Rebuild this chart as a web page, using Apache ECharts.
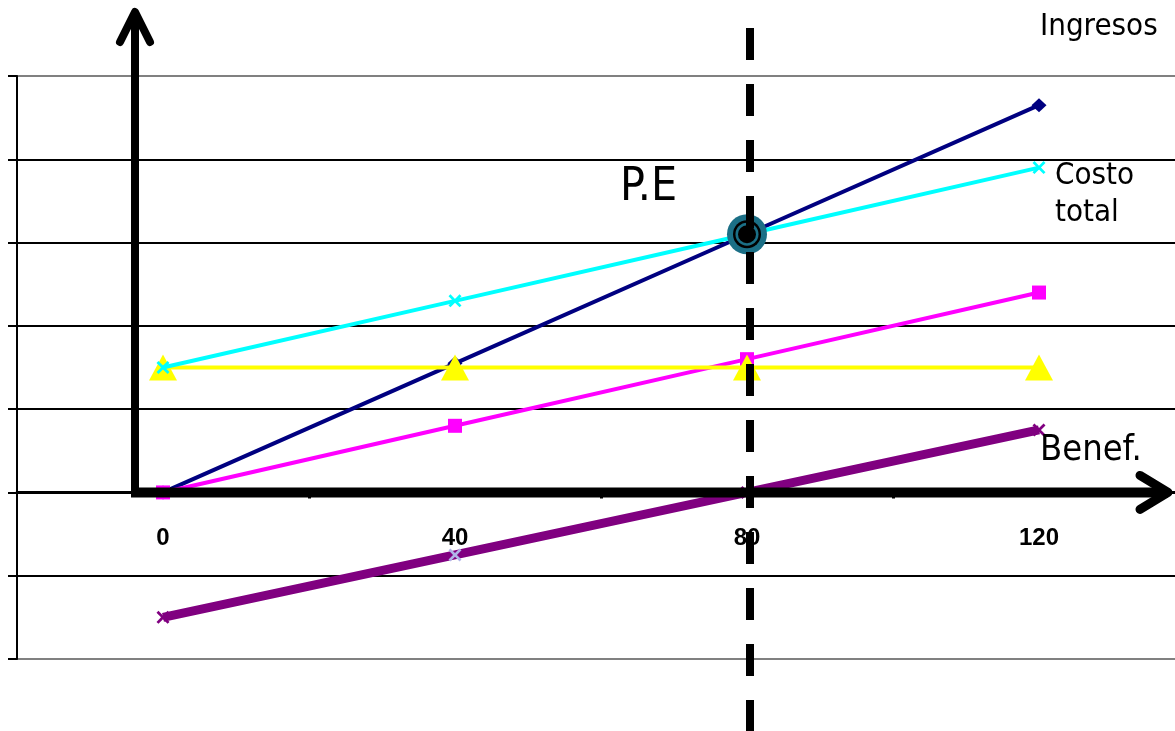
<!DOCTYPE html>
<html>
<head>
<meta charset="utf-8">
<script src="https://cdn.jsdelivr.net/npm/echarts@6/dist/echarts.min.js"></script>
<style>html,body{margin:0;padding:0;background:#fff;}#c{width:1175px;height:731px;}</style>
</head>
<body>
<div id="c"></div>
<script>
// ---- data ----
const xValues = [0, 40, 80, 120];
const ingresos = [0, 15.5, 31, 46.5];
const costoTotal = [15, 23, 31, 39];
const costoVariable = [0, 8, 16, 24];
const costoFijo = [15, 15, 15, 15];
const beneficio = [-15, -7.5, 0, 7.5];
const breakEven = [80, 31];
const xTickLabels = [0, 40, 80, 120];
const xTickMarks = [20, 60, 100];

const pairs = (ys) => xValues.map((x, i) => [x, ys[i]]);
const XPATH = 'path://M0,1.5 L1.5,0 L5,3.5 L8.5,0 L10,1.5 L6.5,5 L10,8.5 L8.5,10 L5,6.5 L1.5,10 L0,8.5 L3.5,5 Z';

const chart = echarts.init(document.getElementById('c'));
const gridColors = ['#808080', '#000', '#000', '#000', '#000', '#000', '#000', '#808080'];
const Y_MIN = -20, Y_MAX = 50, GRID_H = 583;
const zeroOffset = -GRID_H * (0 - Y_MIN) / (Y_MAX - Y_MIN);

chart.setOption({
  animation: false,
  grid: { left: 17, top: 76, width: 1168, height: GRID_H, outerBoundsMode: 'none', containLabel: false },
  xAxis: {
    type: 'value', min: -20, max: 140, position: 'bottom', offset: zeroOffset,
    splitLine: { show: false },
    axisLine: { onZero: false, lineStyle: { color: '#000', width: 3 } },
    axisTick: { customValues: xTickMarks, length: 6, lineStyle: { color: '#000', width: 3 } },
    axisLabel: { customValues: xTickLabels, fontWeight: 'bold', fontSize: 24, fontFamily: 'Liberation Sans', color: '#000', margin: 34 }
  },
  yAxis: {
    type: 'value', min: Y_MIN, max: Y_MAX, interval: 10,
    axisLine: { show: true, onZero: false, lineStyle: { color: '#000', width: 2 } },
    axisTick: { show: true, length: 9, lineStyle: { color: '#000', width: 2 } },
    axisLabel: { show: false },
    splitLine: { show: true, lineStyle: { color: gridColors, width: 2 } }
  },
  series: [
    { name: 'Ingresos', type: 'line', data: pairs(ingresos), symbol: 'diamond', symbolSize: [15, 14],
      lineStyle: { color: '#000080', width: 4 }, itemStyle: { color: '#000080' }, z: 2 },
    { name: 'Costo variable', type: 'line', data: pairs(costoVariable), symbol: 'rect', symbolSize: 14,
      lineStyle: { color: '#ff00ff', width: 4 }, itemStyle: { color: '#ff00ff' }, z: 3 },
    { name: 'Costo fijo', type: 'line', data: pairs(costoFijo), symbol: 'triangle', symbolSize: [28, 26],
      lineStyle: { color: '#ffff00', width: 4 }, itemStyle: { color: '#ffff00' }, z: 4 },
    { name: 'Costo total', type: 'line', data: pairs(costoTotal), symbol: XPATH, symbolSize: 13,
      lineStyle: { color: '#00ffff', width: 4 }, itemStyle: { color: '#00ffff' }, z: 5 },
    { name: 'Benef.', type: 'line', data: pairs(beneficio).map((p, i) => i === 1 ? { value: p, itemStyle: { color: '#b0b4e8' } } : p),
      symbol: XPATH, symbolSize: 13,
      lineStyle: { color: '#800080', width: 9 }, itemStyle: { color: '#800080' }, z: 6 },
    { type: 'scatter', data: [breakEven], symbol: 'circle', symbolSize: 40, itemStyle: { color: '#1b6f86', opacity: 1 }, z: 7 },
    { type: 'scatter', data: [breakEven], symbol: 'circle', symbolSize: 28, itemStyle: { color: '#000', opacity: 1 }, z: 8 },
    { type: 'scatter', data: [breakEven], symbol: 'circle', symbolSize: 23, itemStyle: { color: '#1b6f86', opacity: 1 }, z: 9 },
    { type: 'scatter', data: [breakEven], symbol: 'circle', symbolSize: 18, itemStyle: { color: '#000', opacity: 1 }, z: 10 }
  ]
});

// decorations (arrows, dashed break-even line, annotations) positioned from the axes
const o = chart.convertToPixel({ gridIndex: 0 }, [0, 0]);
const pe = chart.convertToPixel({ gridIndex: 0 }, breakEven);
const yax = o[0] - 28;
const txtFont = "'DejaVu Sans Condensed', 'DejaVu Sans', sans-serif";
chart.setOption({
  graphic: [
    { type: 'line', z: 100, shape: { x1: yax, y1: o[1] + 4, x2: yax, y2: 14 }, style: { stroke: '#000', lineWidth: 8 } },
    { type: 'polyline', z: 100, shape: { points: [[yax - 15, 42], [yax, 12], [yax + 15, 42]] }, style: { stroke: '#000', lineWidth: 8, lineCap: 'round', lineJoin: 'round', fill: null } },
    { type: 'line', z: 100, shape: { x1: yax - 4, y1: o[1], x2: 1168, y2: o[1] }, style: { stroke: '#000', lineWidth: 10 } },
    { type: 'polyline', z: 100, shape: { points: [[1140, o[1] - 17], [1168, o[1]], [1140, o[1] + 17]] }, style: { stroke: '#000', lineWidth: 9, lineCap: 'round', lineJoin: 'round', fill: null } },
    { type: 'line', z: 101, shape: { x1: pe[0] + 3, y1: 28, x2: pe[0] + 3, y2: 731 }, style: { stroke: '#000', lineWidth: 8, lineDash: [32, 24] } },
    { type: 'text', z: 102, style: { text: 'Ingresos', x: 1040, y: 27, fontSize: 31, fontFamily: txtFont, fill: '#000', verticalAlign: 'middle' } },
    { type: 'text', z: 102, style: { text: 'Costo', x: 1055, y: 176, fontSize: 31, fontFamily: txtFont, fill: '#000', verticalAlign: 'middle' } },
    { type: 'text', z: 102, style: { text: 'total', x: 1055, y: 213, fontSize: 31, fontFamily: txtFont, fill: '#000', verticalAlign: 'middle' } },
    { type: 'text', z: 102, style: { text: 'P.E', x: 620, y: 188, fontSize: 46, fontFamily: txtFont, fill: '#000', verticalAlign: 'middle' } },
    { type: 'text', z: 102, style: { text: 'Benef.', x: 1040, y: 451, fontSize: 36, fontFamily: txtFont, fill: '#000', verticalAlign: 'middle' } }
  ]
});
</script>
</body>
</html>
